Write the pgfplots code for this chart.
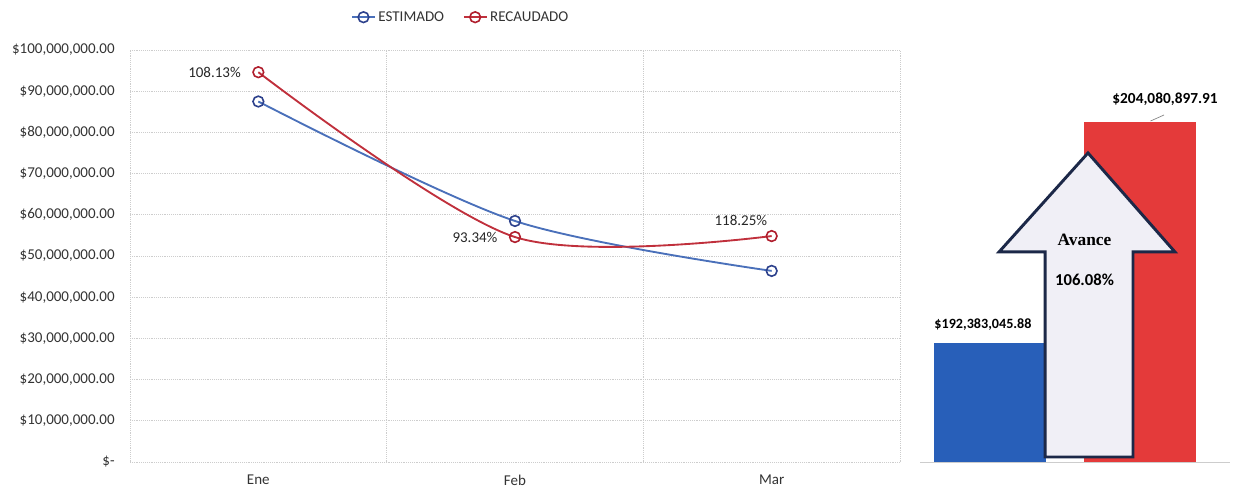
\documentclass[border=0pt]{standalone}
\usepackage{fontspec}
\setmainfont{Carlito}
\newfontfamily\serifb{Liberation Serif}
\usepackage{pgfplots}
\pgfplotsset{compat=1.18}
\usepackage{pgfplotstable}

\definecolor{estline}{RGB}{74,112,186}
\definecolor{estmark}{RGB}{45,65,140}
\definecolor{recline}{RGB}{192,48,60}
\definecolor{recmark}{RGB}{176,30,45}
\definecolor{barblue}{RGB}{40,95,185}
\definecolor{barred}{RGB}{228,58,58}
\definecolor{arrowfill}{RGB}{240,239,246}
\definecolor{arrowline}{RGB}{28,40,72}
\definecolor{gridc}{RGB}{205,205,205}

\pgfplotstableread{
x y
0 87500000
1 58500000
2 46383046
}\est
\pgfplotstableread{
x y
0 94610000
1 54600000
2 54840000
}\rec

\begin{document}
\begin{tikzpicture}[font=\fontsize{11.25pt}{13pt}\selectfont]
\useasboundingbox (0,0) rectangle (926.25pt,367.5pt);

% ---------- left line chart ----------
\begin{axis}[
  at={(97.5pt,21pt)}, anchor=south west,
  width=577.5pt, height=309pt, scale only axis,
  xmin=-0.5, xmax=2.5, ymin=0, ymax=100000000,
  xtick={0,1,2}, xticklabels={Ene,Feb,Mar},
  minor xtick={-0.5,0.5,1.5,2.5},
  ytick={0,10000000,20000000,30000000,40000000,50000000,60000000,70000000,80000000,90000000,100000000},
  yticklabels={{\$-},{\$10,000,000.00},{\$20,000,000.00},{\$30,000,000.00},{\$40,000,000.00},{\$50,000,000.00},{\$60,000,000.00},{\$70,000,000.00},{\$80,000,000.00},{\$90,000,000.00},{\$100,000,000.00}},
  scaled y ticks=false,
  major tick length=0pt, minor tick length=0pt,
  axis line style={draw=none},
  ymajorgrids, minor x grid style={gridc, densely dotted, line width=0.6pt},
  xminorgrids,
  major grid style={gridc, densely dotted, line width=0.6pt},
  yticklabel style={anchor=east, xshift=-8pt, text=black!80},
  xticklabel style={yshift=-6pt, text=black!80},
  legend style={at={(0.43,1)}, anchor=south, yshift=16pt, draw=none, fill=none,
    legend columns=2, /tikz/every even column/.append style={column sep=12pt},
    font=\fontsize{11.25pt}{13pt}\selectfont, text=black!80},
]
\addplot[estline, line width=1.4pt, smooth, tension=0.5,
  mark=o, mark size=4pt, mark options={draw=estmark, fill=white, line width=1.2pt}]
  table[x=x,y=y]{\est};
\addlegendentry{ESTIMADO}
\addplot[recline, line width=1.4pt, smooth, tension=0.5,
  mark=o, mark size=4pt, mark options={draw=recmark, fill=white, line width=1.2pt}]
  table[x=x,y=y]{\rec};
\addlegendentry{RECAUDADO}

\node[anchor=east, text=black!85] at (axis cs:-0.05,94610000) {108.13\%};
\node[anchor=east, text=black!85] at (axis cs:0.95,54600000) {93.34\%};
\node[anchor=south, text=black!85] at (axis cs:1.88,56300000) {118.25\%};
\end{axis}

% ---------- right bar chart ----------
\begin{axis}[
  at={(690pt,21pt)}, anchor=south west,
  width=232.5pt, height=301.5pt, scale only axis,
  xmin=-0.467, xmax=1.6, ymin=186083000, ymax=207360000,
  hide y axis,
  axis x line*=bottom,
  x axis line style={gridc, line width=0.6pt, -},
  xtick=\empty,
  ybar, bar width=84pt,
  clip=false,
]
\addplot[fill=barblue, draw=none, bar shift=0pt] coordinates {(0,192383045.88)};
\addplot[fill=barred, draw=none, bar shift=0pt] coordinates {(1,204080897.91)};

\draw[arrowline, line width=2.2pt, fill=arrowfill, line join=miter]
  (axis cs:0.367,186348000) -- (axis cs:0.367,197200000) -- (axis cs:0.06,197200000)
  -- (axis cs:0.653,202440000) -- (axis cs:1.233,197200000) -- (axis cs:0.953,197200000)
  -- (axis cs:0.953,186348000) -- cycle;

\node[font=\serifb\bfseries\fontsize{13pt}{15pt}\selectfont] at (axis cs:0.63,197850000) {Avance};
\node[font=\bfseries\fontsize{12.5pt}{15pt}\selectfont] at (axis cs:0.63,195730000) {106.08\%};

\node[font=\bfseries\fontsize{10.6pt}{13pt}\selectfont, anchor=south] at (axis cs:-0.047,192383045.88) [yshift=6pt] {\$192,383,045.88};
\node[font=\bfseries\fontsize{11.5pt}{14pt}\selectfont] at (axis cs:1.167,205300000) {\$204,080,897.91};
\draw[gray, line width=0.5pt] (axis cs:1.07,204130000) -- (axis cs:1.16,204450000);
\end{axis}
\end{tikzpicture}
\end{document}
